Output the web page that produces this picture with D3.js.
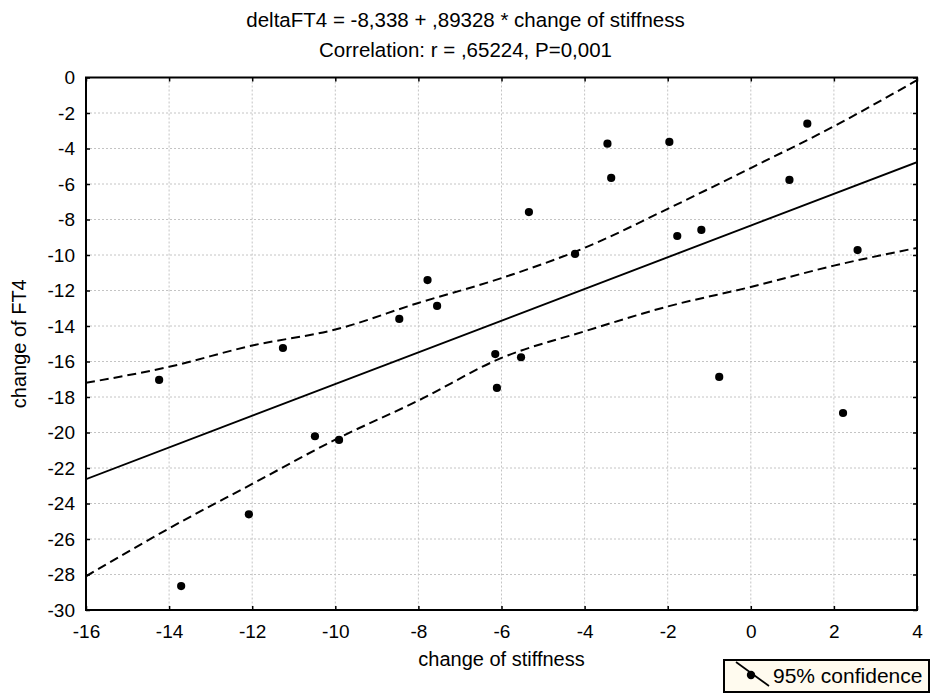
<!DOCTYPE html>
<html>
<head>
<meta charset="utf-8">
<script src="https://cdn.jsdelivr.net/npm/d3@7"></script>
<style>
    body { margin: 0; background: #fff; }
    svg { font-family: "Liberation Sans", Arial, sans-serif; }
    .grid line { stroke: #c4c4c4; stroke-width: 1; stroke-dasharray: 2,2; }
    .axis text { font-size: 19px; fill: #000; }
    .axis line { stroke: #000; stroke-width: 1.5; }
</style>
</head>
<body>
<div id="chart"></div>
<script>
var stiffness = [-14.24, -13.71, -12.08, -11.26, -10.49, -9.91, -8.46, -7.78, -7.55, -6.15, -6.11, -5.53,
                 -5.34, -4.23, -3.45, -3.36, -1.96, -1.77, -1.19, -0.76, 0.93, 1.36, 2.22, 2.57];
var ft4 = [-17.04, -28.65, -24.61, -15.24, -20.21, -20.42, -13.6, -11.41, -12.87, -15.58, -17.49, -15.76,
           -7.58, -9.94, -3.73, -5.66, -3.63, -8.93, -8.59, -16.87, -5.77, -2.60, -18.9, -9.72];

// Fitted line end points: deltaFT4 = -8,338 + ,89328 * change of stiffness
var fitX = [-16, 4];
var fitY = [-22.63, -4.77];

// 95% confidence band
var bandX     = [-16, -14, -12, -10, -8, -6, -4, -2, 0, 2, 4];
var bandUpper = [-17.2, -16.3, -15.1, -14.2, -12.7, -11.3, -9.6, -7.4, -5.1, -2.75, -0.15];
var bandLower = [-28.1, -25.4, -22.9, -20.4, -18.2, -15.8, -14.3, -12.9, -11.8, -10.6, -9.6];

var xTicks = d3.range(-16, 5, 2);
var yTicks = d3.range(-30, 1, 2);

var titleLines = ['deltaFT4 = -8,338 + ,89328 * change of stiffness',
                  'Correlation: r = ,65224, P=0,001'];

var width = 931, height = 693;
var plot = { left: 86, right: 917, top: 77.5, bottom: 610 };

// plain hyphen minus, like the original
function fmtTick(d) { return String(d); }

var svg = d3.select('#chart').append('svg')
    .attr('width', width)
    .attr('height', height);

var x = d3.scaleLinear().domain([-16, 4]).range([plot.left, plot.right]);
var y = d3.scaleLinear().domain([-30, 0]).range([plot.bottom, plot.top]);

// Gridlines
var grid = svg.append('g').attr('class', 'grid');
grid.selectAll('line.gx')
    .data(xTicks.slice(1, -1))
    .enter().append('line')
        .attr('x1', function(d) { return x(d); })
        .attr('x2', function(d) { return x(d); })
        .attr('y1', plot.top)
        .attr('y2', plot.bottom);
grid.selectAll('line.gy')
    .data(yTicks.slice(1, -1))
    .enter().append('line')
        .attr('y1', function(d) { return y(d); })
        .attr('y2', function(d) { return y(d); })
        .attr('x1', plot.left)
        .attr('x2', plot.right);

// Axes, ticks point inward
svg.append('g').attr('class', 'axis')
    .attr('transform', 'translate(0,' + plot.bottom + ')')
    .call(d3.axisBottom(x).tickValues(xTicks).tickFormat(fmtTick).tickSizeInner(-4).tickSizeOuter(0).tickPadding(15));
svg.append('g').attr('class', 'axis')
    .attr('transform', 'translate(' + plot.left + ',0)')
    .call(d3.axisLeft(y).tickValues(yTicks).tickFormat(fmtTick).tickSizeInner(-4).tickSizeOuter(0).tickPadding(11));
svg.append('g').attr('class', 'axis')
    .attr('transform', 'translate(0,' + plot.top + ')')
    .call(d3.axisTop(x).tickValues(xTicks).tickSizeInner(-4).tickSizeOuter(0).tickFormat(''));
svg.append('g').attr('class', 'axis')
    .attr('transform', 'translate(' + plot.right + ',0)')
    .call(d3.axisRight(y).tickValues(yTicks).tickSizeInner(-4).tickSizeOuter(0).tickFormat(''));
svg.selectAll('.axis .domain').remove();

// Frame
svg.append('rect')
    .attr('x', plot.left)
    .attr('y', plot.top)
    .attr('width', plot.right - plot.left)
    .attr('height', plot.bottom - plot.top)
    .attr('fill', 'none')
    .attr('stroke', '#000')
    .attr('stroke-width', 2);

svg.append('clipPath').attr('id', 'plotclip')
    .append('rect')
        .attr('x', plot.left).attr('y', plot.top)
        .attr('width', plot.right - plot.left).attr('height', plot.bottom - plot.top);

var band = d3.line()
    .x(function(d) { return x(d[0]); })
    .y(function(d) { return y(d[1]); })
    .curve(d3.curveMonotoneX);

var marks = svg.append('g').attr('clip-path', 'url(#plotclip)');

marks.append('path')
    .datum(d3.zip(bandX, bandUpper))
    .attr('d', band)
    .attr('fill', 'none').attr('stroke', '#000').attr('stroke-width', 2)
    .attr('stroke-dasharray', '9,5');
marks.append('path')
    .datum(d3.zip(bandX, bandLower))
    .attr('d', band)
    .attr('fill', 'none').attr('stroke', '#000').attr('stroke-width', 2)
    .attr('stroke-dasharray', '9,5');

marks.append('path')
    .datum(d3.zip(fitX, fitY))
    .attr('d', d3.line().x(function(d) { return x(d[0]); }).y(function(d) { return y(d[1]); }))
    .attr('fill', 'none').attr('stroke', '#000').attr('stroke-width', 1.9);

marks.selectAll('circle')
    .data(d3.zip(stiffness, ft4))
    .enter().append('circle')
        .attr('cx', function(d) { return x(d[0]); })
        .attr('cy', function(d) { return y(d[1]); })
        .attr('r', 4.1)
        .attr('fill', '#000');

// Titles
svg.selectAll('text.title')
    .data(titleLines)
    .enter().append('text')
        .attr('class', 'title')
        .attr('x', width / 2)
        .attr('y', function(d, i) { return 27 + i * 29.5; })
        .attr('text-anchor', 'middle')
        .style('font-size', '20.5px')
        .text(function(d) { return d; });

svg.append('text')
    .attr('x', (plot.left + plot.right) / 2)
    .attr('y', 666)
    .attr('text-anchor', 'middle')
    .style('font-size', '20px')
    .text('change of stiffness');

svg.append('text')
    .attr('transform', 'translate(26,' + (plot.top + plot.bottom) / 2 + ') rotate(-90)')
    .attr('text-anchor', 'middle')
    .style('font-size', '20px')
    .text('change of FT4');

// Legend
var legend = svg.append('g');
legend.append('rect')
    .attr('x', 724).attr('y', 660)
    .attr('width', 205).attr('height', 32)
    .attr('fill', '#fffbef')
    .attr('stroke', '#000')
    .attr('stroke-width', 2);
legend.append('line')
    .attr('x1', 736).attr('y1', 662)
    .attr('x2', 769).attr('y2', 686)
    .attr('stroke', '#000').attr('stroke-width', 1.7);
legend.append('circle')
    .attr('cx', 751).attr('cy', 675)
    .attr('r', 4.2).attr('fill', '#000');
legend.append('text')
    .attr('x', 773).attr('y', 683)
    .style('font-size', '21px')
    .text('95% confidence');
</script>
</body>
</html>
